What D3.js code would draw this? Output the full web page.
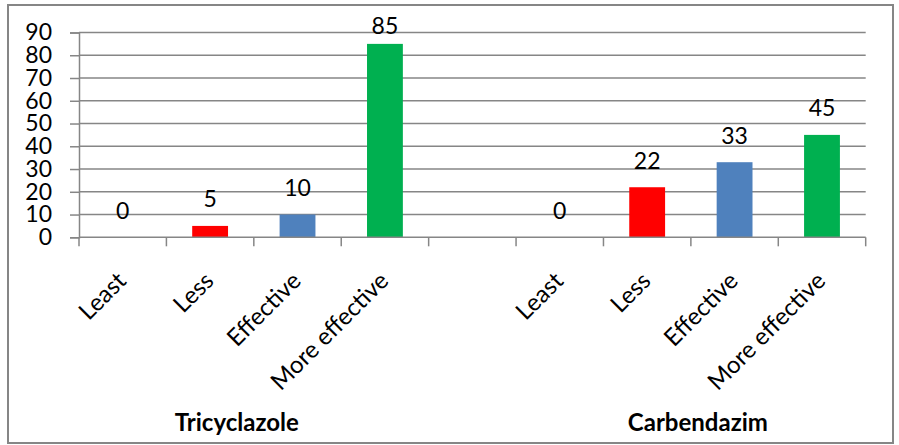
<!DOCTYPE html>
<html>
<head>
<meta charset="utf-8">
<script src="https://cdn.jsdelivr.net/npm/d3@7"></script>
<style>
  html, body { margin: 0; padding: 0; background: #fff; }
  svg { display: block; }
  text { font-family: Lato, "Open Sans", sans-serif; fill: #000; }
</style>
</head>
<body>
<svg id="chart" width="899" height="445"></svg>
<script>
// Fungicide effectiveness ratings (percent of cases per category)
const groups = ["Tricyclazole", "Carbendazim"];
const levels = ["Least", "Less", "Effective", "More effective"];
const tricyclazoleValues = [0, 5, 10, 85];
const carbendazimValues = [0, 22, 33, 45];
const levelColors = ["#FF0000", "#FF0000", "#4F81BD", "#00B050"];
const yTicks = [0, 10, 20, 30, 40, 50, 60, 70, 80, 90];

// One slot per bar, with an empty slot separating the two fungicides
const slots = [];
[tricyclazoleValues, carbendazimValues].forEach((vals, gi) => {
  if (gi > 0) slots.push({ key: "gap" + gi, gap: true });
  vals.forEach((v, li) => slots.push({ key: groups[gi] + "|" + levels[li], group: gi, level: li, value: v }));
});

const svg = d3.select("#chart");
const plotLeft = 79, plotRight = 865.7, plotTop = 32.5, plotBottom = 237.3;
const grey = "#868686";
const fs = 23;

// Outer frame
svg.append("rect")
  .attr("x", 8).attr("y", 5).attr("width", 885).attr("height", 438)
  .attr("fill", "#fff").attr("stroke", grey).attr("stroke-width", 2);

const x = d3.scaleBand().domain(slots.map(d => d.key)).range([plotLeft, plotRight]).padding(0);
const y = d3.scaleLinear().domain([0, 90]).range([plotBottom, plotTop]);

// Horizontal gridlines
svg.append("g").selectAll("line").data(yTicks.filter(t => t > 0)).join("line")
  .attr("x1", plotLeft).attr("x2", plotRight)
  .attr("y1", d => y(d)).attr("y2", d => y(d))
  .attr("stroke", grey).attr("stroke-width", 1.5);

// Y axis
const yAxis = svg.append("g").attr("transform", `translate(${plotLeft},0)`)
  .call(d3.axisLeft(y).tickValues(yTicks).tickSize(9).tickPadding(18));
yAxis.select(".domain").attr("stroke", grey).attr("stroke-width", 1.5);
yAxis.selectAll(".tick line").attr("stroke", grey).attr("stroke-width", 1.5);
yAxis.selectAll(".tick text").attr("font-family", "Lato, sans-serif").attr("font-size", fs).attr("fill", "#000");

// Bars
const barW = x.step() * 0.41;
const bars = slots.filter(d => !d.gap);
svg.append("g").selectAll("rect").data(bars).join("rect")
  .attr("x", d => x(d.key) + (x.bandwidth() - barW) / 2)
  .attr("width", barW)
  .attr("y", d => y(d.value))
  .attr("height", d => y(0) - y(d.value))
  .attr("fill", d => levelColors[d.level]);

// X axis line and slot boundary ticks
svg.append("line").attr("x1", plotLeft).attr("x2", plotRight).attr("y1", plotBottom).attr("y2", plotBottom)
  .attr("stroke", grey).attr("stroke-width", 1.5);
const bounds = slots.map(d => x(d.key)).concat([plotRight]);
svg.append("g").selectAll("line").data(bounds).join("line")
  .attr("x1", d => d).attr("x2", d => d)
  .attr("y1", plotBottom).attr("y2", plotBottom + 9)
  .attr("stroke", grey).attr("stroke-width", 1.5);

// Value labels above bars
svg.append("g").selectAll("text").data(bars).join("text")
  .attr("x", d => x(d.key) + x.bandwidth() / 2)
  .attr("y", d => Math.max(y(d.value) - 18.5, plotTop + 1.5))
  .attr("text-anchor", "middle")
  .attr("font-size", fs)
  .text(d => d.value);

// Rotated category labels
svg.append("g").selectAll("text").data(bars).join("text")
  .attr("transform", d => `translate(${x(d.key) + x.bandwidth() / 2 + 5},${plotBottom + 45}) rotate(-45)`)
  .attr("text-anchor", "end")
  .attr("font-size", fs + 1)
  .text(d => levels[d.level]);

// Fungicide group labels
const groupOffsets = [-17, 7];
svg.append("g").selectAll("text").data(groups).join("text")
  .attr("x", (g, gi) => {
    const ks = bars.filter(d => d.group === gi).map(d => d.key);
    return (x(ks[0]) + x(ks[ks.length - 1]) + x.bandwidth()) / 2 + groupOffsets[gi];
  })
  .attr("y", 431)
  .attr("text-anchor", "middle")
  .attr("font-size", 24)
  .attr("font-weight", "bold")
  .text(d => d);
</script>
</body>
</html>
